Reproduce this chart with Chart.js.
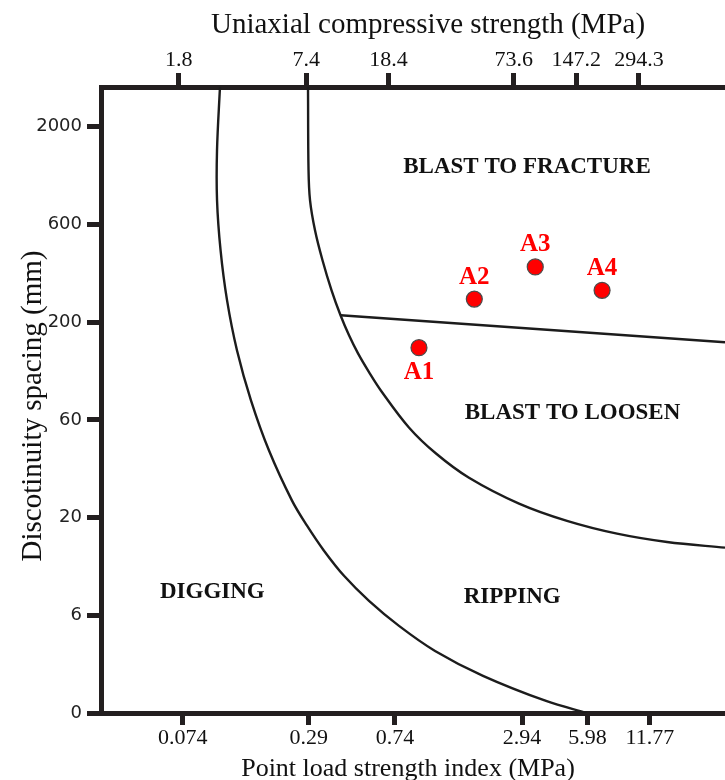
<!DOCTYPE html>
<html>
<head>
<meta charset="utf-8">
<title>Excavatability chart</title>
<script src="https://cdn.jsdelivr.net/npm/chart.js@4.4.1/dist/chart.umd.min.js"></script>
<style>
  html, body { margin: 0; padding: 0; background: #ffffff; overflow: hidden; }
  canvas { display: block; }
</style>
</head>
<body>
<canvas id="chart" width="725" height="780"></canvas>
<script>
// ---------- Tick labels ----------
const pointLoadTicks = [0.074, 0.29, 0.74, 2.94, 5.98, 11.77];     // Is50 (MPa), bottom axis
const ucsTicks = [1.8, 7.4, 18.4, 73.6, 147.2, 294.3];            // UCS (MPa), top axis
const spacingTicks = [0, 6, 20, 60, 200, 600, 2000];               // discontinuity spacing (mm), left axis

// ---------- Axis titles ----------
const titleTop = "Uniaxial compressive strength (MPa)";
const titleBottom = "Point load strength index (MPa)";
const titleLeft = "Discotinuity spacing (mm)";

// ---------- Boundary: digging / ripping ----------
const digBoundaryIs50    = [0.1108, 0.1073, 0.1073, 0.1115, 0.1196, 0.1333, 0.1552, 0.1886, 0.2421, 0.2849, 0.3425, 0.4256, 0.5582, 0.7730, 1.143, 1.923, 3.811, 5.95];
const digBoundarySpacing = [3264,   1500,   810,    449,    256,    141,    76.1,   42.5,   24.2,   18.1,   13.3,   9.76,   7.17,   5.35,   3.81,  2.28,  0.738, 0];

// ---------- Boundary: ripping / blasting ----------
const ripBoundaryIs50    = [0.2880, 0.2896, 0.2943, 0.3107, 0.3370, 0.3718, 0.4098, 0.4494, 0.4955, 0.5582, 0.6347, 0.8608, 1.155, 1.652, 2.843, 4.784, 8.233, 14.17, 26.57];
const ripBoundarySpacing = [3264,   1172,   810,    562,    401,    286,    216,    170,    136,    108,    86.2,   55.1,   41.1,  31.3,  23.4,  19.2,  16.4,  14.8,  13.8];

// ---------- Boundary: blast to loosen / blast to fracture ----------
const fractureBoundaryIs50    = [0.410, 26.57];
const fractureBoundarySpacing = [216,   156];

// ---------- Sites ----------
const siteNames   = ["A1", "A2", "A3", "A4"];
const siteIs50    = [0.96, 1.75, 3.39, 7.0];
const siteSpacing = [146,  259,  372,  286];
const siteLabelSide = ["below", "above", "above", "above"];

// ---------- Zone labels ----------
const zoneNames   = ["BLAST TO FRACTURE", "BLAST TO LOOSEN", "DIGGING", "RIPPING"];
const zoneIs50    = [3.10, 5.08, 0.102, 2.64];
const zoneSpacing = [1216, 64.9, 7.95, 7.53];

// Map a spacing (mm) onto the left axis, whose ticks are evenly spaced
function spacingToAxis(mm) {
  const T = spacingTicks;
  if (mm <= T[1]) return mm / T[1];
  for (let k = 1; k < T.length - 1; k++) {
    if (mm <= T[k + 1]) return k + Math.log(mm / T[k]) / Math.log(T[k + 1] / T[k]);
  }
  const n = T.length - 1;
  return n + Math.log(mm / T[n]) / Math.log(T[n] / T[n - 1]);
}
function toPoints(xs, ys) {
  return xs.map((x, i) => ({ x: x, y: spacingToAxis(ys[i]) }));
}

const FRAME = '#231f20';
const LINE = '#1c1c1c';
const SERIF = "'Liberation Serif', 'Times New Roman', serif";

const textPlugin = {
  id: 'chartText',
  afterDatasetsDraw(chart) {
    const ctx = chart.ctx;
    const xs = chart.scales.x, ys = chart.scales.y;
    ctx.save();
    // zone labels
    ctx.fillStyle = '#111111';
    ctx.font = "bold 23px " + SERIF;
    ctx.textAlign = 'center';
    ctx.textBaseline = 'middle';
    zoneNames.forEach((name, i) => {
      ctx.fillText(name, xs.getPixelForValue(zoneIs50[i]), ys.getPixelForValue(spacingToAxis(zoneSpacing[i])));
    });
    // site labels
    ctx.fillStyle = '#ff0000';
    ctx.font = "bold 25px " + SERIF;
    const meta = chart.getDatasetMeta(3);
    meta.data.forEach((pt, i) => {
      const dy = siteLabelSide[i] === 'below' ? 25 : -22;
      ctx.fillText(siteNames[i], pt.x, pt.y + dy);
    });
    // axis titles
    ctx.fillStyle = '#111111';
    ctx.textBaseline = 'alphabetic';
    ctx.font = "29px " + SERIF;
    ctx.fillText(titleTop, 428, 33);
    ctx.font = "26px " + SERIF;
    ctx.fillText(titleBottom, 408, 776);
    ctx.save();
    ctx.translate(41, 406);
    ctx.rotate(-Math.PI / 2);
    ctx.font = "29px " + SERIF;
    ctx.fillText(titleLeft, 0, 0);
    ctx.restore();
    ctx.restore();
  }
};

const boundaryStyle = {
  showLine: true,
  borderColor: LINE,
  borderWidth: 2.4,
  pointRadius: 0,
  pointHoverRadius: 0,
  fill: false
};

new Chart(document.getElementById('chart'), {
  type: 'scatter',
  data: {
    datasets: [
      Object.assign({ label: 'Digging / ripping', data: toPoints(digBoundaryIs50, digBoundarySpacing), tension: 0.35 }, boundaryStyle),
      Object.assign({ label: 'Ripping / blasting', data: toPoints(ripBoundaryIs50, ripBoundarySpacing), tension: 0.35 }, boundaryStyle),
      Object.assign({ label: 'Loosen / fracture', data: toPoints(fractureBoundaryIs50, fractureBoundarySpacing), tension: 0 }, boundaryStyle),
      {
        label: 'Sites',
        data: toPoints(siteIs50, siteSpacing),
        showLine: false,
        pointRadius: 8,
        pointHoverRadius: 8,
        pointBackgroundColor: '#ff0000',
        pointBorderColor: '#4a4a4a',
        pointBorderWidth: 1.2
      }
    ]
  },
  options: {
    responsive: false,
    animation: false,
    devicePixelRatio: 1,
    layout: { padding: 0, autoPadding: false },
    plugins: { legend: { display: false }, tooltip: { enabled: false }, title: { display: false } },
    events: [],
    scales: {
      x: {
        type: 'logarithmic',
        position: 'bottom',
        min: 0.03047,
        max: 26.57,
        afterBuildTicks: s => { s.ticks = pointLoadTicks.map(v => ({ value: v })); },
        afterFit: s => { s.height = 67; },
        ticks: {
          callback: v => String(v),
          autoSkip: false, maxRotation: 0, minRotation: 0,
          padding: 0,
          color: '#111111',
          font: { family: SERIF, size: 22 }
        },
        grid: { drawOnChartArea: false, drawTicks: true, tickLength: 12, tickWidth: 5, tickColor: FRAME },
        border: { display: true, width: 5, color: FRAME },
        title: { display: false }
      },
      x2: {
        type: 'logarithmic',
        position: 'top',
        min: 0.761,
        max: 763.6,
        afterBuildTicks: s => { s.ticks = ucsTicks.map(v => ({ value: v })); },
        afterFit: s => { s.height = 87; },
        ticks: {
          callback: v => String(v),
          autoSkip: false, maxRotation: 0, minRotation: 0,
          padding: 0,
          color: '#111111',
          font: { family: SERIF, size: 22 }
        },
        grid: { drawOnChartArea: false, drawTicks: true, tickLength: 14, tickWidth: 5, tickColor: FRAME },
        border: { display: true, width: 5, color: FRAME },
        title: { display: false }
      },
      y: {
        type: 'linear',
        position: 'left',
        min: 0,
        max: 6.406,
        afterBuildTicks: s => { s.ticks = spacingTicks.map((v, i) => ({ value: i })); },
        afterFit: s => { s.width = 101; },
        ticks: {
          callback: v => String(spacingTicks[Math.round(v)]),
          autoSkip: false,
          padding: 5,
          color: '#222222',
          font: { family: "'DejaVu Sans', sans-serif", size: 18 }
        },
        grid: { drawOnChartArea: false, drawTicks: true, tickLength: 14, tickWidth: 5, tickColor: FRAME },
        border: { display: true, width: 5, color: FRAME },
        title: { display: false }
      }
    }
  },
  plugins: [textPlugin]
});
</script>
</body>
</html>
